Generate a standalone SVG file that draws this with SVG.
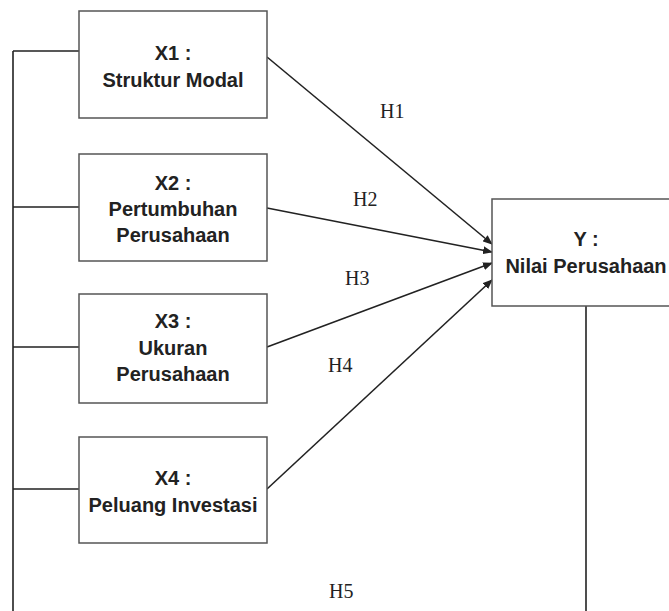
<svg xmlns="http://www.w3.org/2000/svg" width="669" height="611" viewBox="0 0 669 611">
<defs>
<style>
.box{fill:#fff;stroke:#555;stroke-width:1.5}
.t{font-family:"Liberation Sans",Arial,sans-serif;font-weight:bold;font-size:20px;fill:#222;text-anchor:middle}
.h{font-family:"Liberation Serif","Times New Roman",serif;font-size:20px;fill:#222}
.ln{stroke:#222;stroke-width:1.6;fill:none}
</style>
<marker id="arr" markerWidth="10" markerHeight="8" refX="9" refY="4" orient="auto" markerUnits="userSpaceOnUse">
<path d="M0,0 L10,4 L0,8 Z" fill="#222"/>
</marker>
</defs>
<rect width="669" height="611" fill="#fff"/>
<g id="connectors">
<path class="ln" d="M13,51 V611 M13,51 H79 M13,207 H79 M13,347 H79 M13,489 H79"/>
<path class="ln" d="M586,306 V611"/>
<line class="ln" x1="267" y1="57" x2="492" y2="244" marker-end="url(#arr)"/>
<line class="ln" x1="267" y1="208" x2="492" y2="252" marker-end="url(#arr)"/>
<line class="ln" x1="267" y1="347" x2="492" y2="263" marker-end="url(#arr)"/>
<line class="ln" x1="267" y1="489" x2="492" y2="280" marker-end="url(#arr)"/>
<text class="h" x="380" y="118">H1</text>
<text class="h" x="353" y="206">H2</text>
<text class="h" x="345" y="285">H3</text>
<text class="h" x="328" y="372">H4</text>
<text class="h" x="329" y="598">H5</text>
</g>
<g id="x1">
<rect class="box" x="79" y="11" width="188" height="107"/>
<text class="t" x="173" y="60">X1 :</text>
<text class="t" x="173" y="87">Struktur Modal</text>
</g>
<g id="x2">
<rect class="box" x="79" y="154" width="188" height="107"/>
<text class="t" x="173" y="190">X2 :</text>
<text class="t" x="173" y="216">Pertumbuhan</text>
<text class="t" x="173" y="242">Perusahaan</text>
</g>
<g id="x3">
<rect class="box" x="79" y="294" width="188" height="109"/>
<text class="t" x="173" y="328">X3 :</text>
<text class="t" x="173" y="355">Ukuran</text>
<text class="t" x="173" y="381">Perusahaan</text>
</g>
<g id="x4">
<rect class="box" x="79" y="437" width="188" height="106"/>
<text class="t" x="173" y="485">X4 :</text>
<text class="t" x="173" y="512">Peluang Investasi</text>
</g>
<g id="y">
<rect class="box" x="492" y="199" width="190" height="107"/>
<text class="t" x="586" y="246">Y :</text>
<text class="t" x="586" y="273">Nilai Perusahaan</text>
</g>
</svg>
